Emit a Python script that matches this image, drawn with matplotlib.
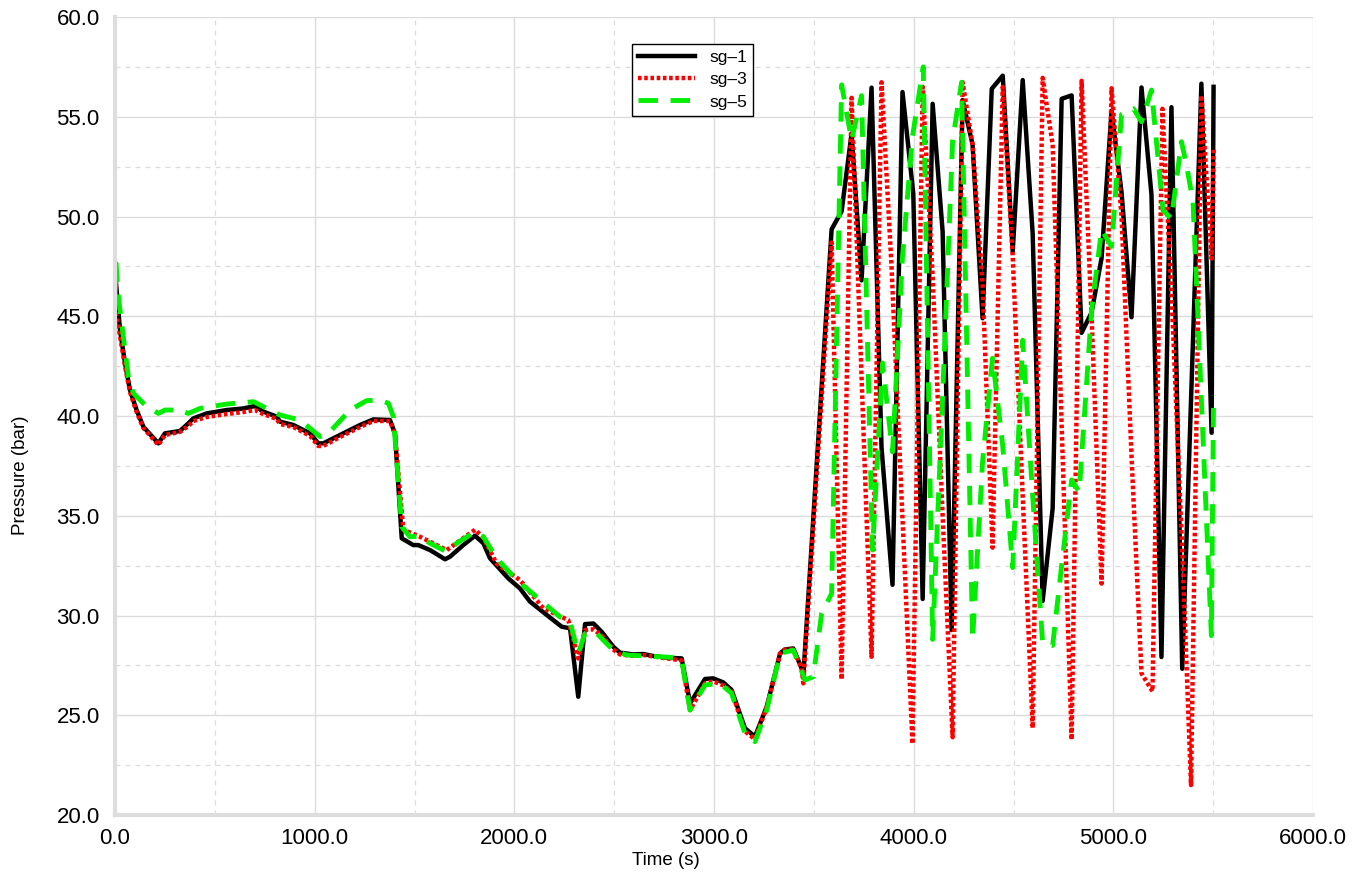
import matplotlib.pyplot as plt
from matplotlib.ticker import MultipleLocator, FormatStrFormatter

plt.rcParams['font.family'] = ['Liberation Sans', 'DejaVu Sans']

# sg-1 (black)
t1 = [0, 3, 25, 50, 75, 108, 142, 217, 250, 325,
      367, 392, 459, 559, 643, 701, 743, 810, 826, 893,
      977, 1018, 1043, 1127, 1227, 1294, 1377, 1402, 1436, 1494,
      1519, 1578, 1653, 1678, 1744, 1803, 1845, 1878, 1970, 2028,
      2078, 2162, 2237, 2279, 2320, 2354, 2396, 2437, 2495, 2529,
      2596, 2646, 2696, 2763, 2838, 2880, 2955, 2996, 3046, 3088,
      3155, 3205, 3264, 3331, 3355, 3397, 3439, 3447, 3589, 3639,
      3689, 3739, 3789, 3839, 3894, 3944, 3998, 4045, 4095, 4145,
      4190, 4245, 4295, 4345, 4391, 4446, 4496, 4546, 4596, 4646,
      4696, 4741, 4791, 4841, 4891, 4941, 4991, 5041, 5091, 5141,
      5191, 5241, 5291, 5345, 5441, 5492, 5502]
p1 = [45.8, 46.9, 44.3, 42.65, 41.3, 40.3, 39.46, 38.63, 39.13, 39.25,
      39.63, 39.88, 40.13, 40.3, 40.38, 40.5, 40.22, 39.97, 39.72, 39.55,
      39.13, 38.63, 38.63, 39.05, 39.55, 39.83, 39.8, 39.13, 33.87, 33.53,
      33.53, 33.28, 32.82, 32.95, 33.53, 34.0, 33.62, 32.87, 31.86, 31.36,
      30.7, 30.03, 29.44, 29.36, 25.93, 29.57, 29.6, 29.19, 28.44, 28.14,
      28.05, 28.07, 27.97, 27.89, 27.85, 25.6, 26.82, 26.85, 26.65, 26.27,
      24.35, 23.93, 25.43, 28.1, 28.3, 28.35, 27.35, 26.93, 49.36, 50.26,
      54.16, 46.8, 56.46, 38.42, 31.54, 56.24, 51.15, 30.83, 55.65, 49.25,
      29.27, 55.84, 53.6, 44.9, 56.4, 57.06, 48.25, 56.84, 49.14, 30.73,
      35.37, 55.9, 56.07, 44.17, 45.19, 47.91, 55.3, 51.22, 44.95, 56.47,
      51.1, 27.92, 55.48, 27.33, 56.66, 39.16, 56.5]

# sg-3 (red)
t3 = [0, 25, 50, 75, 108, 142, 217, 250, 325, 367,
      392, 459, 559, 643, 701, 743, 810, 826, 893, 977,
      1018, 1043, 1127, 1227, 1294, 1377, 1402, 1444, 1527, 1661,
      1803, 1845, 1911, 2028, 2145, 2270, 2320, 2354, 2396, 2437,
      2495, 2529, 2596, 2646, 2696, 2763, 2838, 2880, 2955, 2996,
      3046, 3088, 3155, 3205, 3264, 3331, 3355, 3397, 3439, 3447,
      3589, 3639, 3689, 3789, 3839, 3889, 3939, 3994, 4045, 4095,
      4145, 4195, 4245, 4295, 4345, 4395, 4446, 4496, 4546, 4596,
      4646, 4696, 4746, 4791, 4841, 4891, 4941, 4991, 5041, 5091,
      5141, 5196, 5246, 5296, 5346, 5389, 5441, 5492, 5502]
p3 = [45.5, 44.0, 42.5, 41.2, 40.2, 39.4, 38.55, 39.05, 39.2, 39.5,
      39.75, 39.95, 40.1, 40.2, 40.3, 40.1, 39.85, 39.6, 39.45, 39.0,
      38.5, 38.5, 38.95, 39.45, 39.75, 39.75, 39.1, 34.3, 33.95, 33.28,
      34.3, 33.9, 32.6, 31.78, 30.36, 29.77, 27.85, 29.27, 29.31, 29.0,
      28.3, 28.05, 27.98, 28.02, 27.95, 27.85, 27.75, 25.26, 26.6, 26.7,
      26.5, 26.2, 24.2, 23.8, 25.4, 28.1, 28.3, 28.3, 27.4, 26.6,
      48.7, 26.8, 55.95, 27.93, 56.73, 47.5, 36.0, 23.57, 56.5, 47.0,
      35.0, 23.9, 56.73, 53.6, 46.6, 33.4, 56.5, 48.0, 36.0, 24.36,
      56.95, 53.6, 38.0, 23.78, 56.8, 45.0, 31.6, 56.43, 50.0, 38.0,
      27.1, 26.2, 55.4, 45.0, 33.0, 21.5, 56.07, 47.9, 53.4]

# sg-5 (green)
t5 = [0, 5, 17, 33, 67, 92, 142, 217, 250, 325,
      367, 426, 559, 643, 693, 743, 826, 926, 977, 1027,
      1077, 1177, 1260, 1327, 1369, 1394, 1436, 1477, 1528, 1578,
      1661, 1711, 1803, 1845, 1911, 2012, 2228, 2279, 2320, 2354,
      2404, 2495, 2562, 2813, 2838, 2880, 2955, 3030, 3088, 3155,
      3205, 3264, 3331, 3397, 3456, 3497, 3539, 3589, 3639, 3689,
      3739, 3794, 3844, 3894, 3944, 3994, 4048, 4095, 4145, 4195,
      4240, 4295, 4345, 4395, 4446, 4496, 4546, 4596, 4646, 4696,
      4741, 4791, 4829, 4891, 4941, 4991, 5041, 5101, 5141, 5191,
      5249, 5291, 5341, 5364, 5399, 5491, 5502]
p5 = [46.0, 47.65, 45.98, 44.65, 41.97, 41.14, 40.64, 40.13, 40.3, 40.3,
      40.13, 40.38, 40.6, 40.67, 40.72, 40.47, 40.05, 39.8, 39.38, 38.97,
      39.22, 40.3, 40.77, 40.8, 40.64, 39.97, 34.45, 33.95, 33.98, 33.62,
      33.2, 33.62, 34.2, 33.95, 32.87, 31.78, 29.94, 29.69, 28.1, 29.1,
      29.19, 28.27, 28.02, 27.89, 27.77, 25.26, 26.52, 26.6, 26.1, 24.1,
      23.68, 25.26, 28.1, 28.27, 26.77, 26.93, 30.1, 31.1, 56.6, 53.83,
      56.06, 33.28, 42.66, 38.2, 48.0, 54.0, 57.5, 28.8, 41.0, 53.8,
      56.73, 28.8, 37.7, 42.9, 38.5, 32.4, 43.8, 36.0, 28.6, 28.5,
      32.5, 36.8, 36.2, 45.3, 49.33, 48.5, 55.12, 55.4, 54.75, 56.34,
      50.3, 49.9, 53.75, 52.7, 50.75, 28.99, 41.05]

fig = plt.figure(figsize=(13.71, 8.86), dpi=100)
ax = fig.add_axes([0.0839, 0.0801, 0.8738, 0.9007])

ax.plot(t1, p1, color='black', lw=3.2, label='sg\u20131')
ax.plot(t3, p3, color='#ff0000', lw=3.2, linestyle=(0, (0.8, 0.6)), label='sg\u20133')
ax.plot(t5, p5, color='#00ee00', lw=3.5, dashes=(4, 2.6), label='sg\u20135')

ax.set_xlim(0, 6000)
ax.set_ylim(20, 60)
ax.xaxis.set_major_locator(MultipleLocator(1000))
ax.xaxis.set_minor_locator(MultipleLocator(500))
ax.yaxis.set_major_locator(MultipleLocator(5))
ax.yaxis.set_minor_locator(MultipleLocator(2.5))
ax.xaxis.set_major_formatter(FormatStrFormatter('%.1f'))
ax.yaxis.set_major_formatter(FormatStrFormatter('%.1f'))

ax.grid(which='major', color='#dcdcdc', lw=1.0, linestyle='-')
ax.grid(which='minor', color='#dcdcdc', lw=0.9, linestyle=(0, (4, 4)))
ax.set_axisbelow(True)

for s in ['top', 'right']:
    ax.spines[s].set_visible(False)
for s in ['left', 'bottom']:
    ax.spines[s].set_color('#dddddd')
    ax.spines[s].set_linewidth(3)

ax.tick_params(which='both', length=0, labelsize=16)
ax.tick_params(axis='y', pad=11)
ax.tick_params(axis='x', pad=9)

ax.set_xlabel('Time (s)', fontsize=13.5)
ax.set_ylabel('Pressure (bar)', fontsize=13.5)
ax.xaxis.set_label_coords(0.46, -0.046)
ax.yaxis.set_label_coords(-0.072, 0.426)

leg = ax.legend(loc='upper left', bbox_to_anchor=(0.4316, 0.966), fontsize=12.5,
                fancybox=False, framealpha=1, edgecolor='black', borderaxespad=0,
                handlelength=3.3, borderpad=0.35, labelspacing=0.4)
leg.get_frame().set_linewidth(1.0)

fig.savefig('out.png', dpi=100)
